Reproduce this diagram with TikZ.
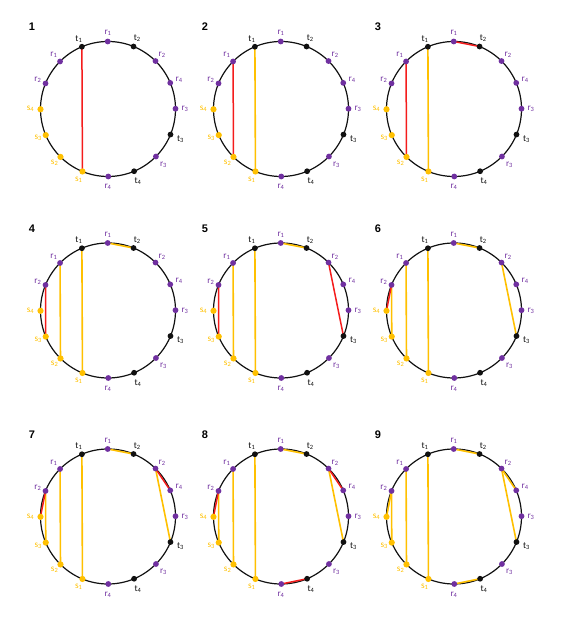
\documentclass[tikz,border=0pt]{standalone}
\usepackage{fontspec}
\setmainfont{Carlito}
\newfontfamily\numfont{Liberation Sans}
\usetikzlibrary{backgrounds}
\definecolor{pur}{HTML}{7030A0}
\definecolor{yel}{HTML}{FFC000}
\definecolor{redc}{HTML}{F41C1C}
\definecolor{blk}{HTML}{111111}
\tikzset{
  dot/.style={circle, inner sep=0pt, minimum size=5.8pt, draw=none},
  ydot/.style={circle, inner sep=0pt, minimum size=6.2pt, draw=none},
  lab/.style={inner sep=0pt, font=\fontsize{9.2}{10}\selectfont},
  ring/.style={draw=blk, line width=1.2pt},
  yline/.style={draw=yel, line width=1.6pt},
  rline/.style={draw=redc, line width=1.5pt},
  numlab/.style={inner sep=0pt, font=\numfont\bfseries\fontsize{11}{12}\selectfont}
}
\newcommand\mysub[1]{\textsubscript{#1}}
\newcommand\mypanel[5]{%
  \begin{scope}[shift={(#2,#3)}]
    \foreach \i/\ang/\nm/\col/\rr/\ds in {
      0/90/r\mysub{1}/pur/76/dot, 1/67.5/t\mysub{2}/blk/76.5/dot, 2/45/r\mysub{2}/pur/76.5/dot,
      3/22.5/r\mysub{4}/pur/77/dot, 4/0/r\mysub{3}/pur/77/dot, 5/-22.5/t\mysub{3}/blk/78.5/dot,
      6/-45/r\mysub{3}/pur/78.5/dot, 7/-67.5/t\mysub{4}/blk/78.5/dot, 8/-90/r\mysub{4}/pur/78/dot,
      9/-112.5/s\mysub{1}/yel/76.5/ydot, 10/-135/s\mysub{2}/yel/75.5/ydot, 11/-157.5/s\mysub{3}/yel/75.5/ydot,
      12/180/s\mysub{4}/yel/77.5/ydot, 13/157.5/r\mysub{2}/pur/76/dot, 14/135/r\mysub{1}/pur/76.5/dot,
      15/112.5/t\mysub{1}/blk/76/dot} {
      \node[\ds, fill=\col] (p#1-\i) at ({\ang+0.25}:67.5) {};
      \node[lab, text=\col] (l#1-\i) at (\ang:\rr) {\nm};
    }
    \begin{scope}[on background layer]
      \draw[ring] (0,0) circle (67.5);
      \foreach \a/\b in {#4} {\draw[yline] (p#1-\a.center) -- (p#1-\b.center);}
      \foreach \a/\b in {#5} {\draw[rline] (p#1-\a.center) -- (p#1-\b.center);}
    \end{scope}
  \end{scope}
  \node[numlab] (n#1) at ({#2-76},{#3+82}) {#1};
}
\begin{document}
\begin{tikzpicture}[x=1pt,y=1pt]
\useasboundingbox (0,0) rectangle (568,620);
\mypanel{1}{108}{511}{}{15/9}
\mypanel{2}{281}{511}{15/9}{14/10}
\mypanel{3}{454}{511}{15/9}{14/10,0/1}
\mypanel{4}{108}{309.5}{15/9,14/10,0/1}{13/11}
\mypanel{5}{281}{309.5}{15/9,14/10,0/1}{13/11,2/5}
\mypanel{6}{454}{309.5}{15/9,14/10,0/1,13/11,2/5}{13/12}
\mypanel{7}{108}{103.5}{15/9,14/10,0/1,13/11,2/5}{13/12,2/3}
\mypanel{8}{281}{103.5}{15/9,14/10,0/1,13/11,2/5}{13/12,2/3,8/7}
\mypanel{9}{454}{103.5}{15/9,14/10,0/1,13/11,2/5,13/12,2/3,8/7}{}
\end{tikzpicture}
\end{document}
